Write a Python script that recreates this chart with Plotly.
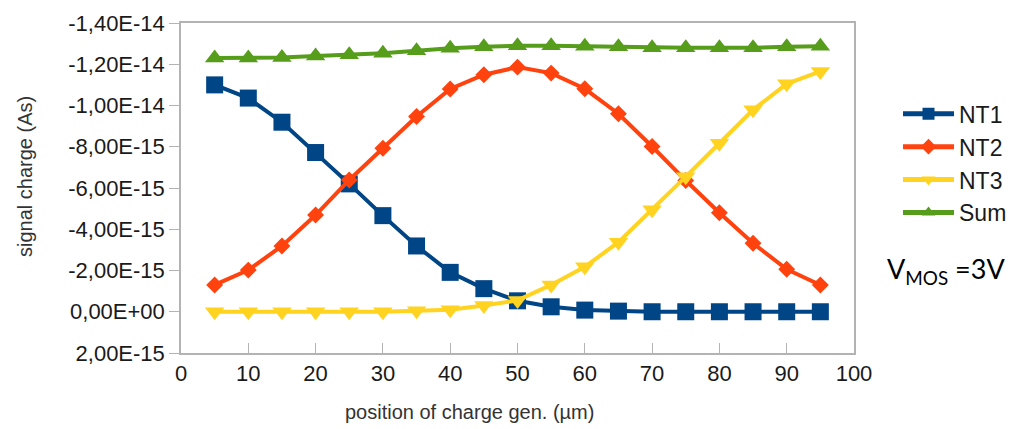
import plotly.graph_objects as go

# Position of charge generation (µm)
position = [5, 10, 15, 20, 25, 30, 35, 40, 45, 50, 55, 60, 65, 70, 75, 80, 85, 90, 95]

# Signal charge per node (As)
nt1 = [-11.00e-15, -10.36e-15, -9.19e-15, -7.72e-15, -6.20e-15, -4.66e-15, -3.19e-15,
       -1.91e-15, -1.12e-15, -0.53e-15, -0.24e-15, -0.08e-15, -0.03e-15, 0.0, 0.0,
       0.0, 0.0, 0.0, 0.0]
nt2 = [-1.30e-15, -2.02e-15, -3.19e-15, -4.69e-15, -6.39e-15, -7.93e-15, -9.47e-15,
       -10.80e-15, -11.49e-15, -11.86e-15, -11.57e-15, -10.81e-15, -9.60e-15, -8.01e-15,
       -6.36e-15, -4.80e-15, -3.32e-15, -2.06e-15, -1.30e-15]
nt3 = [0.0, 0.0, 0.0, 0.0, 0.0, 0.0, -0.05e-15, -0.10e-15, -0.30e-15, -0.55e-15,
       -1.30e-15, -2.18e-15, -3.37e-15, -4.94e-15, -6.55e-15, -8.17e-15, -9.79e-15,
       -11.05e-15, -11.65e-15]
total = [-12.30e-15, -12.30e-15, -12.33e-15, -12.40e-15, -12.46e-15, -12.53e-15,
         -12.65e-15, -12.78e-15, -12.85e-15, -12.90e-15, -12.90e-15, -12.87e-15,
         -12.85e-15, -12.80e-15, -12.80e-15, -12.80e-15, -12.80e-15, -12.85e-15,
         -12.87e-15]

series_names = ["NT1", "NT2", "NT3", "Sum"]

# Y axis ticks (charge is negative, axis runs downward)
y_tickvals = [-1.4e-14, -1.2e-14, -1.0e-14, -8e-15, -6e-15, -4e-15, -2e-15, 0.0, 2e-15]
y_ticktext = ["-1,40E-14", "-1,20E-14", "-1,00E-14", "-8,00E-15", "-6,00E-15",
              "-4,00E-15", "-2,00E-15", "0,00E+00", "2,00E-15"]
x_tickvals = [0, 10, 20, 30, 40, 50, 60, 70, 80, 90, 100]

styles = [
    dict(color="#004586", symbol="square", size=17),
    dict(color="#ff420e", symbol="diamond", size=13),
    dict(color="#ffd320", symbol="triangle-down", size=17),
    dict(color="#579d1c", symbol="triangle-up", size=17),
]

fig = go.Figure()
for name, values, st in zip(series_names, [nt1, nt2, nt3, total], styles):
    fig.add_trace(go.Scatter(
        x=position, y=values, name=name, mode="lines+markers",
        line=dict(color=st["color"], width=4),
        marker=dict(color=st["color"], symbol=st["symbol"], size=st["size"]),
    ))

axis_gray = "#b3b3b3"
text_col = "#1a1a1a"

fig.update_layout(
    width=1009, height=429,
    margin=dict(l=181, r=155, t=23, b=76, autoexpand=False),
    plot_bgcolor="white", paper_bgcolor="white",
    font=dict(family="Liberation Sans", size=22, color=text_col),
    showlegend=True,
    legend=dict(
        x=1.0654, y=0.79, xanchor="left", yanchor="top",
        font=dict(size=23, color=text_col),
        itemsizing="constant", itemwidth=51,
        bgcolor="rgba(0,0,0,0)",
    ),
    xaxis=dict(
        range=[0, 100], tickvals=x_tickvals,
        ticks="inside", ticklen=10, tickcolor=axis_gray, tickwidth=1,
        showline=True, linecolor=axis_gray, linewidth=1.5, mirror=True,
        showgrid=False, zeroline=False,
        tickfont=dict(size=22, color=text_col),
    ),
    yaxis=dict(
        range=[2e-15, -1.4e-14], tickvals=y_tickvals, ticktext=y_ticktext,
        ticks="outside", ticklen=10, tickcolor=axis_gray, tickwidth=1,
        showline=True, linecolor=axis_gray, linewidth=1.5, mirror=True,
        showgrid=False, zeroline=False,
        tickfont=dict(size=22, color=text_col),
    ),
    annotations=[
        dict(text="position of charge gen. (µm)", xref="paper", yref="paper",
             x=0.428, y=-0.179, xanchor="center", yanchor="middle", showarrow=False,
             font=dict(size=20, color="#333333")),
        dict(text="signal charge (As)", xref="paper", yref="paper",
             x=-0.232, y=0.536, xanchor="center", yanchor="middle", showarrow=False,
             textangle=-90, font=dict(size=20, color="#333333")),
        dict(text="V<sub>MOS</sub> =3V", xref="paper", yref="paper",
             x=1.137, y=0.25, xanchor="center", yanchor="middle", showarrow=False,
             font=dict(family="Lato", size=27, color="#000000")),
    ],
)

fig.write_html("out.html")
